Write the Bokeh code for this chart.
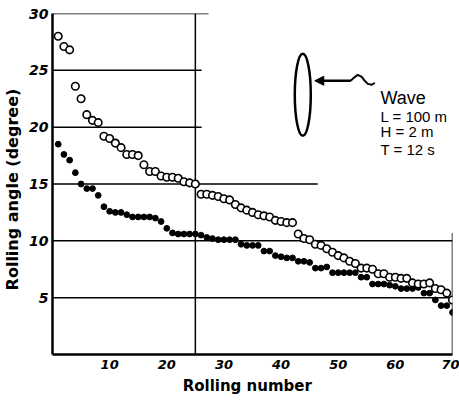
from bokeh.plotting import figure
from bokeh.models import Range1d, Arrow, NormalHead, Label, FixedTicker
from bokeh.embed import file_html
from bokeh.resources import INLINE

rolling_number = list(range(1, 71))

beam_sea_open = [
    28.0, 27.1, 26.8, 23.6, 22.5, 21.1, 20.6, 20.4, 19.2, 19.0,
    18.6, 18.2, 17.6, 17.6, 17.5, 16.7, 16.1, 16.1, 15.7, 15.6,
    15.6, 15.5, 15.2, 15.1, 15.0, 14.1, 14.1, 14.0, 13.9, 13.7,
    13.6, 13.2, 12.9, 12.7, 12.5, 12.3, 12.2, 12.1, 11.8, 11.7,
    11.6, 11.6, 10.6, 10.2, 10.1, 9.7, 9.6, 9.3, 9.0, 8.7,
    8.5, 8.2, 8.0, 7.6, 7.6, 7.5, 7.1, 7.1, 6.8, 6.8,
    6.7, 6.7, 6.3, 6.2, 6.2, 6.3, 5.8, 5.7, 5.4, 4.8,
]

beam_sea_filled = [
    18.5, 17.6, 17.1, 16.0, 15.0, 14.6, 14.6, 14.0, 13.0, 12.6,
    12.5, 12.5, 12.3, 12.1, 12.1, 12.1, 12.1, 12.0, 11.7, 11.1,
    10.7, 10.6, 10.6, 10.6, 10.6, 10.5, 10.3, 10.2, 10.1, 10.1,
    10.1, 10.1, 9.7, 9.6, 9.6, 9.6, 9.1, 9.1, 8.7, 8.6,
    8.5, 8.5, 8.2, 8.2, 8.1, 7.6, 7.6, 7.7, 7.2, 7.2,
    7.2, 7.2, 7.2, 6.8, 6.8, 6.2, 6.2, 6.2, 6.1, 6.0,
    5.8, 5.8, 5.8, 5.9, 5.4, 5.4, 4.8, 4.3, 4.3, 3.7,
]

x_ticks = [10, 20, 30, 40, 50, 60, 70]
y_ticks = [5, 10, 15, 20, 25, 30]

# hand-drawn reference lines: (y, x_end)
h_lines_y = [30, 25, 20, 15, 10, 5]
h_lines_xend = [27.3, 26.1, 26.1, 46.4, 70, 70]

p = figure(width=459, height=400, x_range=Range1d(0, 70), y_range=Range1d(0, 30),
           output_backend="svg", toolbar_location=None,
           min_border_left=52, min_border_right=7, min_border_top=13, min_border_bottom=46)
p.outline_line_color = None
p.grid.visible = False
p.background_fill_color = "white"

font = "DejaVu Sans"
for ax in (p.xaxis, p.yaxis):
    ax.axis_line_width = 2.5
    ax.axis_line_color = "black"
    ax.major_tick_line_color = None
    ax.minor_tick_line_color = None
    ax.major_tick_out = 0
    ax.major_tick_in = 0
    ax.minor_tick_out = 0
    ax.major_label_text_font = font
    ax.major_label_text_font_style = "bold italic"
    ax.major_label_text_color = "black"
    ax.axis_label_text_font = font
    ax.axis_label_text_font_style = "bold"
    ax.axis_label_text_color = "black"

p.xaxis.ticker = FixedTicker(ticks=x_ticks)
p.yaxis.ticker = FixedTicker(ticks=y_ticks)
p.xaxis.major_label_text_font_size = "13px"
p.yaxis.major_label_text_font_size = "14px"
p.xaxis.major_label_standoff = 5
p.yaxis.major_label_standoff = 4
p.xaxis.axis_label = "Rolling   number"
p.yaxis.axis_label = "Rolling  angle  (degree)"
p.xaxis.axis_label_text_font_size = "15px"
p.yaxis.axis_label_text_font_size = "16px"
p.xaxis.axis_label_standoff = 5
p.yaxis.axis_label_standoff = 4

# reference lines
p.segment(x0=[0] * len(h_lines_y), y0=h_lines_y, x1=h_lines_xend, y1=h_lines_y,
          line_color="black", line_width=1.5)
p.segment(x0=[25, 70], y0=[0, 0], x1=[25, 70], y1=[30, 10.7],
          line_color="black", line_width=1.5)

p.scatter(rolling_number, beam_sea_filled, marker="circle", size=5.8,
          fill_color="black", line_color="black")
p.scatter(rolling_number, beam_sea_open, marker="circle", size=7.5,
          fill_color="white", line_color="black", line_width=1.6)

# ship section and wave arrow
p.ellipse(x=[43.8], y=[22.85], width=2.8, height=7.2, fill_color=None,
          line_color="black", line_width=2.5)
p.add_layout(Arrow(end=NormalHead(size=9, fill_color="black", line_color="black"),
                   x_start=52.2, y_start=24.08, x_end=45.9, y_end=24.08,
                   line_width=2.5, line_color="black"))
p.line([52.19, 52.71, 53.42, 54.12, 54.64, 55.17, 55.87, 56.39],
       [24.08, 24.34, 24.60, 24.43, 24.08, 23.81, 23.73, 23.90],
       line_color="black", line_width=2)

lab_font = "Liberation Sans"
for txt, yy, size in [("Wave", 22.6, "18px"), ("L = 100 m", 20.9, "15px"),
                      ("H =  2  m", 19.6, "15px"), ("T = 12  s", 18.0, "15px")]:
    p.add_layout(Label(x=57.4, y=yy, text=txt, text_font=lab_font, text_font_size=size,
                       text_color="black", text_baseline="alphabetic"))

open("out.html", "w").write(file_html(p, INLINE))
